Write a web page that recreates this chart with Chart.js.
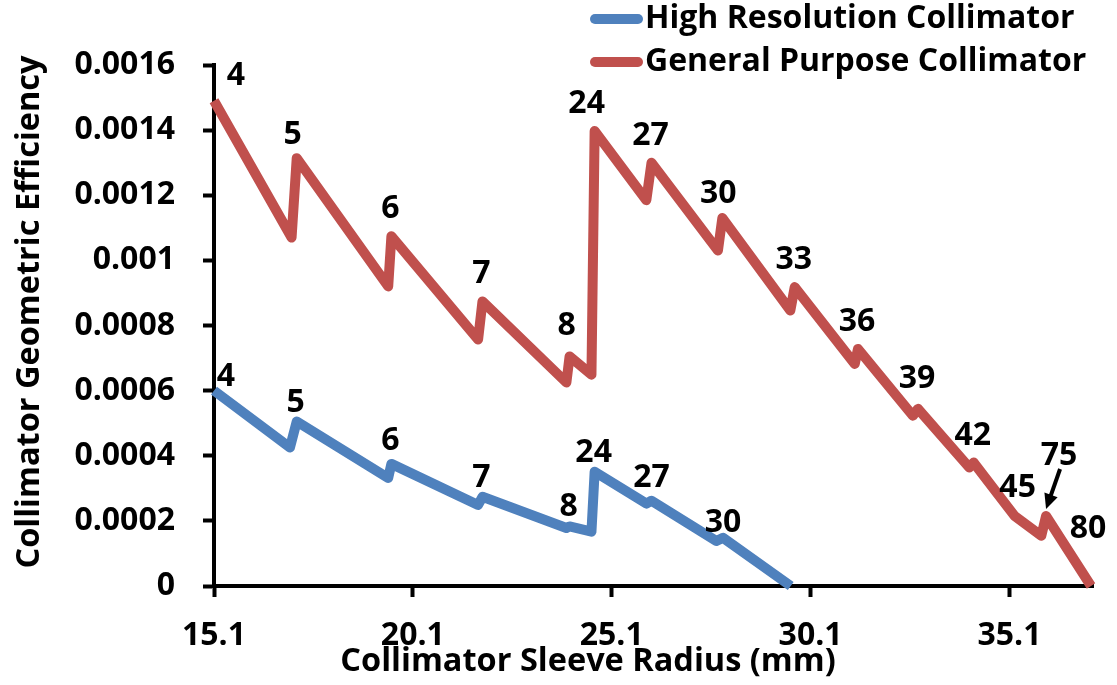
<!DOCTYPE html>
<html>
<head>
<meta charset="utf-8">
<script src="https://cdn.jsdelivr.net/npm/chart.js@4.4.1/dist/chart.umd.min.js"></script>
<style>
  html, body { margin: 0; padding: 0; background: #fff; }
  canvas { display: block; }
</style>
</head>
<body>
<canvas id="effChart" width="1117" height="685"></canvas>
<script>
const seriesNames = ['High Resolution Collimator', 'General Purpose Collimator'];
const seriesColors = ['#4F81BD', '#C0504D'];
const xTitle = 'Collimator Sleeve Radius (mm)';
const yTitle = 'Collimator Geometric Efficiency';

const xTicks = [15.1, 20.1, 25.1, 30.1, 35.1];
const yTicks = [0, 0.0002, 0.0004, 0.0006, 0.0008, 0.001, 0.0012, 0.0014, 0.0016];

// high resolution collimator: radius (mm), efficiency, label at each jump
const hiresX = [15.1, 17.01, 17.18, 19.48, 19.56, 21.74, 21.85, 23.96, 24.04, 24.59, 24.67, 25.97, 26.10, 27.73, 27.90, 29.60];
const hiresY = [0.00060, 0.000425, 0.000505, 0.000332, 0.000375, 0.000249, 0.000274, 0.000178, 0.000183, 0.000167, 0.000351, 0.000253, 0.000262, 0.000138, 0.000148, 0.0];
const hiresLabels = ['4', '', '5', '', '6', '', '7', '', '8', '', '24', '', '27', '', '30', ''];

// general purpose collimator
const gpX = [15.1, 17.05, 17.18, 19.48, 19.56, 21.74, 21.85, 23.96, 24.04, 24.59, 24.67, 25.97, 26.10, 27.77, 27.88, 29.59, 29.70, 31.21, 31.29, 32.67, 32.80, 34.09, 34.20, 35.23, 35.90, 36.02, 37.15];
const gpY = [0.00149, 0.00107, 0.001314, 0.00092, 0.001074, 0.000757, 0.000874, 0.000625, 0.000705, 0.000649, 0.001397, 0.001185, 0.00130, 0.00103, 0.00113, 0.000846, 0.000918, 0.000682, 0.000728, 0.000523, 0.000544, 0.000364, 0.000379, 0.000215, 0.000154, 0.000215, 0.0];
const gpLabels = ['4', '', '5', '', '6', '', '7', '', '8', '', '24', '', '27', '', '30', '', '33', '', '36', '', '39', '', '42', '45', '', '75', '80'];

const FONT = "'Open Sans', 'DejaVu Sans', sans-serif";

function toPoints(xs, ys) {
  return xs.map((x, i) => ({ x: x, y: ys[i] }));
}

// pixel offsets of the jump labels from their point
const labelOffsets = [
  { '4': [12, -16], '6': [-1, -25], '27': [0, -25], '30': [0, -17], def: [-1, -21] },
  { '4': [22, -27], '5': [-4, -25], '8': [-3, -32], '24': [-8, -29], '30': [-4, -26], '39': [-1, -32], '45': [3, -30], '75': [13, -62], '80': [-3, -59], def: [-1, -29] }
];

function drawArrow(c, x1, y1, x2, y2) {
  const a = Math.atan2(y2 - y1, x2 - x1);
  const cs = Math.cos(a), sn = Math.sin(a);
  c.save();
  c.strokeStyle = '#000';
  c.fillStyle = '#000';
  c.lineWidth = 4;
  c.beginPath();
  c.moveTo(x1, y1);
  c.lineTo(x2 - 10 * cs, y2 - 10 * sn);
  c.stroke();
  c.beginPath();
  c.moveTo(x2, y2);
  c.lineTo(x2 - 15 * cs + 7 * sn, y2 - 15 * sn - 7 * cs);
  c.lineTo(x2 - 15 * cs - 7 * sn, y2 - 15 * sn + 7 * cs);
  c.closePath();
  c.fill();
  c.restore();
}

const jumpLabels = {
  id: 'jumpLabels',
  afterDatasetsDraw(chart) {
    const c = chart.ctx;
    c.save();
    c.font = 'bold 32px ' + FONT;
    c.fillStyle = '#000';
    c.textAlign = 'center';
    c.textBaseline = 'alphabetic';
    chart.data.datasets.forEach((ds, i) => {
      const meta = chart.getDatasetMeta(i);
      const offs = labelOffsets[i];
      ds.jumpLabels.forEach((txt, j) => {
        if (!txt) return;
        const p = meta.data[j];
        const o = offs[txt] || offs.def;
        c.fillText(txt, p.x + o[0], p.y + o[1] + 11);
        if (txt === '75') drawArrow(c, p.x + 14, p.y - 47, p.x, p.y - 7);
      });
    });
    c.restore();
  }
};

const sideLegend = {
  id: 'sideLegend',
  afterDraw(chart) {
    const c = chart.ctx;
    c.save();
    c.font = 'bold 32px ' + FONT;
    c.textBaseline = 'middle';
    chart.data.datasets.forEach((ds, i) => {
      const y = 19 + i * 43;
      c.strokeStyle = ds.borderColor;
      c.lineWidth = 10;
      c.lineCap = 'round';
      c.beginPath();
      c.moveTo(595, y);
      c.lineTo(638, y);
      c.stroke();
      c.fillStyle = '#000';
      c.fillText(ds.label, 645, y);
    });
    c.restore();
  }
};

const axisTitles = {
  id: 'axisTitles',
  afterDraw(chart) {
    const c = chart.ctx;
    c.save();
    c.font = 'bold 32.5px ' + FONT;
    c.fillStyle = '#000';
    c.textAlign = 'center';
    c.textBaseline = 'middle';
    c.fillText(xTitle, 588, 662);
    c.translate(30, 312);
    c.rotate(-Math.PI / 2);
    c.fillText(yTitle, 0, 0);
    c.restore();
  }
};

const tickFont = { family: FONT, size: 32, weight: 'bold' };

const ctx = document.getElementById('effChart').getContext('2d');
const effChart = new Chart(ctx, {
  type: 'line',
  data: {
    datasets: [
      {
        label: seriesNames[0],
        data: toPoints(hiresX, hiresY),
        jumpLabels: hiresLabels,
        borderColor: seriesColors[0],
        backgroundColor: seriesColors[0],
        borderWidth: 10,
        clip: false
      },
      {
        label: seriesNames[1],
        data: toPoints(gpX, gpY),
        jumpLabels: gpLabels,
        borderColor: seriesColors[1],
        backgroundColor: seriesColors[1],
        borderWidth: 10,
        clip: false
      }
    ]
  },
  options: {
    responsive: false,
    animation: false,
    layout: { padding: { top: 65, right: 24, left: 0, bottom: 0 } },
    elements: {
      point: { radius: 0, hoverRadius: 0 },
      line: { tension: 0, borderJoinStyle: 'round', borderCapStyle: 'butt' }
    },
    plugins: {
      legend: { display: false },
      tooltip: { enabled: false }
    },
    scales: {
      x: {
        type: 'linear',
        min: 15.1,
        max: 37.2,
        afterBuildTicks: (s) => { s.ticks = xTicks.map(v => ({ value: v })); },
        afterFit: (s) => { s.height = 99; },
        ticks: {
          autoSkip: false,
          maxRotation: 0,
          padding: 20,
          color: '#000',
          font: tickFont,
          callback: (v) => Number(v).toFixed(1)
        },
        grid: { drawOnChartArea: false, tickLength: 11, tickWidth: 4, color: '#000' },
        border: { display: true, color: '#000', width: 4 }
      },
      y: {
        min: 0,
        max: 0.0016,
        afterBuildTicks: (s) => { s.ticks = yTicks.map(v => ({ value: v })); },
        afterFit: (s) => { s.width = 214; },
        ticks: {
          padding: 28,
          color: '#000',
          font: tickFont,
          callback: (v) => String(Number(Number(v).toFixed(4)))
        },
        grid: { drawOnChartArea: false, tickLength: 11, tickWidth: 4, color: '#000' },
        border: { display: true, color: '#000', width: 4 }
      }
    }
  },
  plugins: [jumpLabels, sideLegend, axisTitles]
});
</script>
</body>
</html>
